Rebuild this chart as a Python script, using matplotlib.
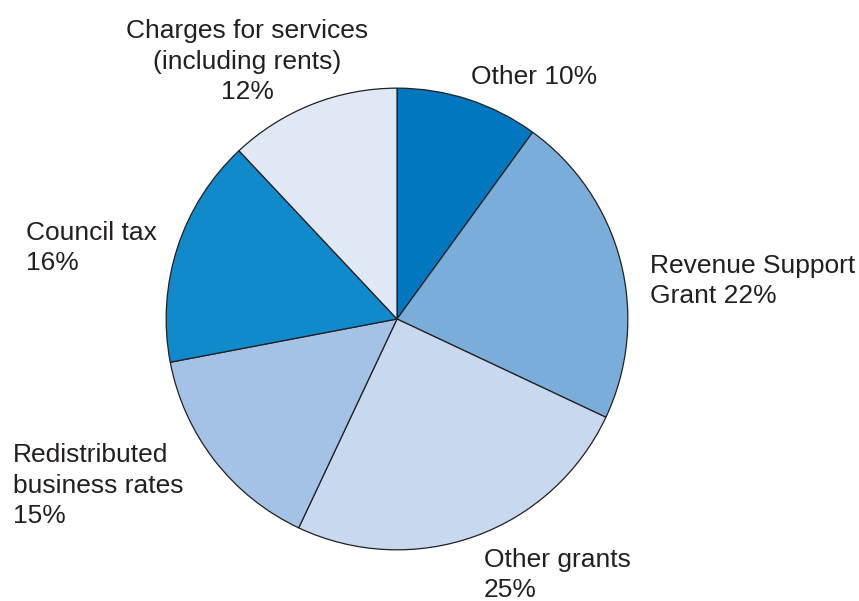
import matplotlib
matplotlib.use("Agg")
import matplotlib.pyplot as plt

# Income sources, clockwise from 12 o'clock
categories = [
    "Other",
    "Revenue Support\nGrant",
    "Other grants\n",
    "Redistributed\nbusiness rates\n",
    "Council tax\n",
    "Charges for services\n(including rents)\n",
]
shares = [10, 22, 25, 15, 16, 12]
colors = ["#0077be", "#7badda", "#c8d8ee", "#a3c2e6", "#118acb", "#e1e8f5"]

W, H, DPI = 859, 601, 100
fig = plt.figure(figsize=(W / DPI, H / DPI), dpi=DPI)
fig.patch.set_facecolor("white")

cx, cy, r = 397, 319, 232
ax = fig.add_axes([(cx - r) / W, (H - cy - r) / H, 2 * r / W, 2 * r / H])
ax.pie(
    shares,
    colors=colors,
    startangle=90,
    counterclock=False,
    radius=1.0,
    wedgeprops=dict(edgecolor="#231f20", linewidth=0.9),
)
ax.set_xlim(-1.005, 1.005)
ax.set_ylim(-1.005, 1.005)
ax.set_aspect("equal")
ax.axis("off")

# label anchor (pixel x, last-line baseline y, horizontal alignment)
label_pos = [
    (471, 84, "left"),
    (650, 303, "left"),
    (484, 597, "left"),
    (13, 523, "left"),
    (26, 270, "left"),
    (247, 99, "center"),
]

txt_color = "#231f20"
for name, val, (px, py, ha) in zip(categories, shares, label_pos):
    sep = "" if name.endswith("\n") else " "
    label = f"{name}{sep}{val}%"
    fig.text(
        px / W, 1 - py / H, label,
        ha=ha, va="baseline", multialignment=ha,
        fontsize=19, family="Liberation Sans", color=txt_color,
        linespacing=1.34,
    )

fig.savefig("out.png", dpi=DPI, facecolor="white")
